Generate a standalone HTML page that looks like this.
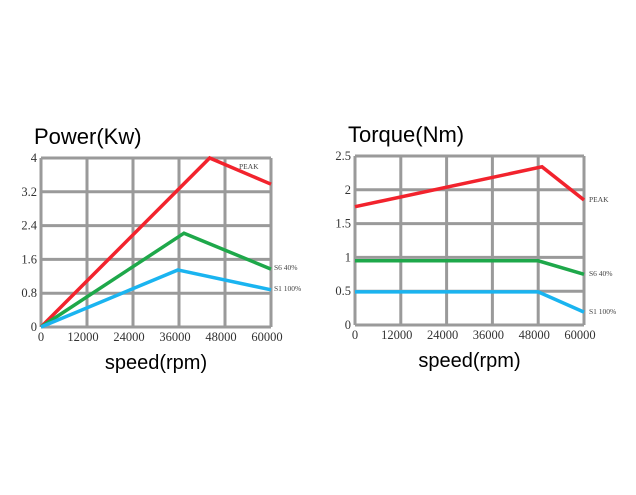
<!DOCTYPE html>
<html><head><meta charset="utf-8"><style>
body{margin:0;background:#fff;width:636px;height:490px;overflow:hidden}
svg text{font-family:"Liberation Serif",serif}
</style></head><body>
<svg id="c" width="636" height="490"></svg>
<script>
const xTicks=[0,12000,24000,36000,48000,60000];
const pTicks=[0,0.8,1.6,2.4,3.2,4];
const pTickLabels=["0","0.8","1.6","2.4","3.2","4"];
const tTicks=[0,0.5,1,1.5,2,2.5];
const tTickLabels=["0","0.5","1","1.5","2","2.5"];
const pPeakX=[0,44000,60000], pPeakY=[0,4,3.38];
const pS6X=[0,37300,60000], pS6Y=[0,2.22,1.37];
const pS1X=[0,35700,60000], pS1Y=[0,1.35,0.88];
const tPeakX=[0,49000,60000], tPeakY=[1.75,2.34,1.85];
const tS6X=[0,48000,60000], tS6Y=[0.95,0.95,0.75];
const tS1X=[0,48000,60000], tS1Y=[0.49,0.49,0.19];
const seriesNames=["PEAK","S6 40%","S1 100%"];
const NS="http://www.w3.org/2000/svg";
const svg=document.getElementById('c');
function mk(t,a,txt){const e=document.createElementNS(NS,t);for(const k in a)e.setAttribute(k,a[k]);if(txt!=null)e.textContent=txt;svg.appendChild(e);return e;}
function chart(o){
 const sx=v=>o.x0+(v/60000)*(o.x1-o.x0);
 const sy=v=>o.y1-(v/o.ymax)*(o.y1-o.y0);
 let t=mk('text',{x:o.x0-7,y:o.y0-14,'font-size':22,style:'font-family:"Liberation Sans",sans-serif'},o.title);
 
 
 xTicks.forEach(v=>{
  let l=mk('line',{x1:sx(v),x2:sx(v),y1:o.y0,y2:o.y1,stroke:'#9a9a9a','stroke-width':3});
  
  
  let tx=mk('text',{x:sx(v)+(v==0?0:-4),y:o.y1+14,'font-size':12.5,'text-anchor':v==0?'middle':'middle',fill:'#333'},String(v));
  
  
 });
 o.yt.forEach((v,i)=>{
  let l=mk('line',{x1:o.x0,x2:o.x1,y1:sy(v),y2:sy(v),stroke:'#9a9a9a','stroke-width':3});
  
  
  let tx=mk('text',{x:o.x0-4,y:sy(v)+4,'font-size':12.5,'text-anchor':'end',fill:'#333'},o.yl[i]);
  
  
 });
 const cols=['#f2232d','#1ea84a','#1ab4f0'];
 o.s.forEach((s,i)=>{
  let p=mk('polyline',{points:s[0].map((x,j)=>sx(x)+','+sy(s[1][j])).join(' '),fill:'none',stroke:cols[i],'stroke-width':3.5});
  
  
 });
 o.lab.forEach((L,i)=>{
  let tx=mk('text',{x:L[0],y:L[1],'font-size':7.5,fill:'#444'},seriesNames[i]);
  
  
 });
 let xl=mk('text',{x:(o.x0+o.x1)/2,y:o.y1+42,'font-size':20,'text-anchor':'middle',style:'font-family:"Liberation Sans",sans-serif'},'speed(rpm)');
 
 
}
chart({id:'power',title:'Power(Kw)',x0:41,x1:271,y0:158,y1:327,ymax:4,yt:pTicks,yl:pTickLabels,
 s:[[pPeakX,pPeakY],[pS6X,pS6Y],[pS1X,pS1Y]],lab:[[239,169],[274,270],[274,291]]});
chart({id:'torque',title:'Torque(Nm)',x0:355,x1:584,y0:156,y1:325,ymax:2.5,yt:tTicks,yl:tTickLabels,
 s:[[tPeakX,tPeakY],[tS6X,tS6Y],[tS1X,tS1Y]],lab:[[589,202],[589,276],[589,314]]});
</script>
</body></html>
